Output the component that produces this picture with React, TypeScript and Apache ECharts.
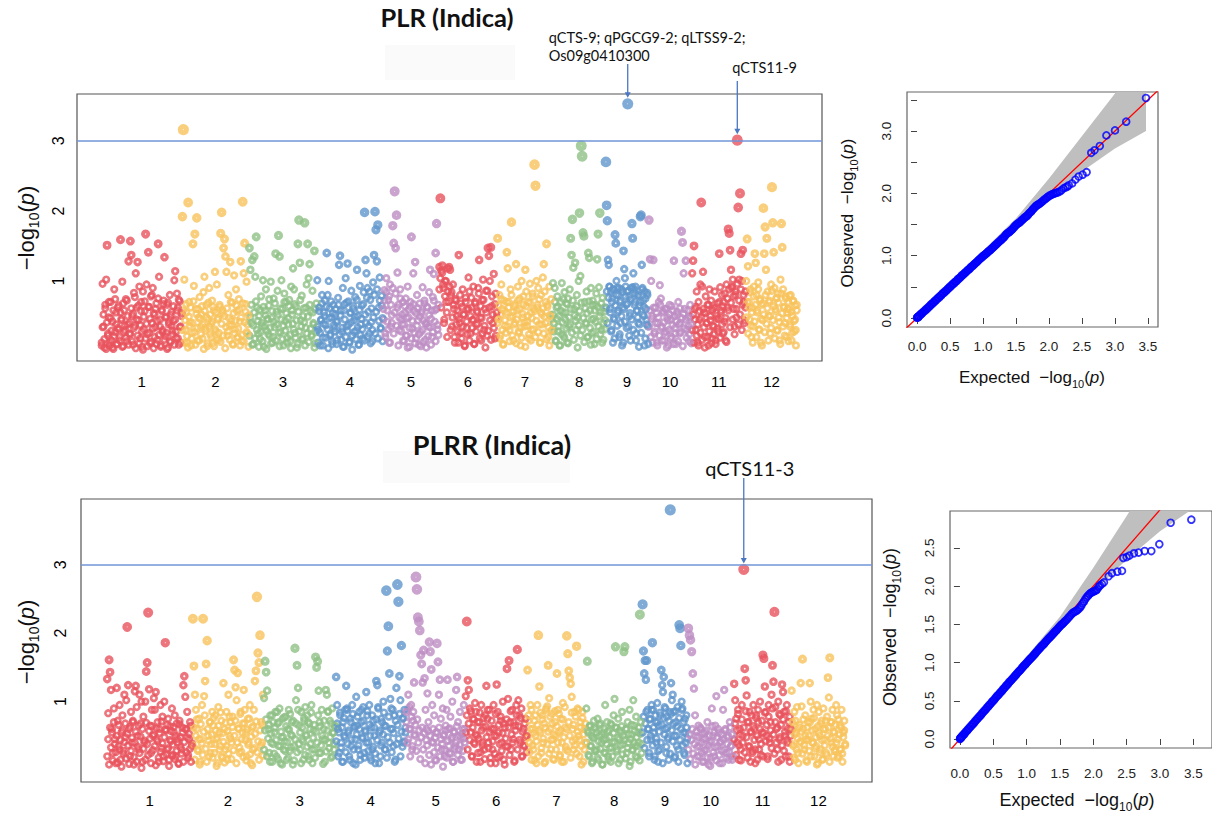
import React, { useEffect, useRef } from "react";
import * as echarts from "echarts";

// ---------- chromosomes ----------
const CHR_LABELS = ["1", "2", "3", "4", "5", "6", "7", "8", "9", "10", "11", "12"];
const CHR_LEN_MB = [43.27, 35.94, 36.41, 35.5, 29.96, 31.25, 29.7, 28.44, 23.01, 23.21, 29.02, 27.53];
const CHR_COLORS = [
  "#e9525d", "#f7c35d", "#8ec186", "#6096cc", "#bd8dc3",
  "#e9525d", "#f7c35d", "#8ec186", "#6096cc", "#bd8dc3",
  "#e9525d", "#f7c35d",
];

// ---------- -log10(p) x 100 per SNP, in genome order, per chromosome ----------
// SNPs carrying the visible signal (peaks and their neighbourhoods)
const PLR_LOGP: number[][] = [
  [12, 96, 35, 5, 61, 102, 151, 22, 48, 8, 70, 15, 42, 3, 88, 27, 55, 10, 33, 65, 20, 159, 46, 99, 7, 58, 30, 74, 14, 38,
    128, 25, 157, 137, 50, 9, 83, 36, 111, 62, 127, 44, 92, 18, 70, 6, 85, 31, 57, 167, 95, 24, 141, 63, 11, 78, 40, 90, 4, 52,
    34, 68, 16, 153, 106, 45, 8, 59, 27, 72, 134, 21, 49, 66, 5, 38, 80, 13, 56, 29, 43, 101, 114, 19, 82, 62, 9, 71, 35, 54],
  [192, 316, 102, 30, 55, 12, 212, 70, 41, 8, 26, 153, 93, 167, 60, 190, 15, 48, 77, 35, 52, 18, 84, 106, 33, 66, 7, 45, 90, 24,
    39, 72, 11, 58, 113, 28, 95, 47, 16, 63, 168, 198, 54, 147, 160, 135, 113, 22, 80, 37, 127, 44, 69, 9, 108, 31, 88, 57, 20, 74,
    42, 128, 14, 213, 111, 154, 67, 99, 25, 51],
  [147, 116, 40, 130, 10, 135, 106, 163, 62, 25, 50, 17, 78, 36, 101, 6, 58, 88, 29, 45, 65, 21, 99, 47, 12, 75, 34, 139, 56, 86,
    165, 135, 27, 101, 60, 8, 82, 43, 70, 19, 38, 73, 14, 92, 52, 118, 88, 26, 64, 5, 153, 187, 126, 44, 79, 18, 61, 183, 33, 95,
    153, 104, 124, 57, 23, 86, 40, 143, 11, 68],
  [101, 30, 62, 8, 45, 80, 19, 55, 72, 37, 140, 80, 100, 61, 24, 48, 10, 66, 33, 52, 42, 15, 76, 123, 136, 58, 28, 90, 6, 67,
    104, 35, 125, 71, 12, 54, 86, 22, 60, 44, 77, 29, 116, 50, 9, 93, 38, 65, 18, 84, 198, 130, 111, 90, 56, 25, 73, 41, 14, 98,
    137, 199, 173, 128, 180, 62, 105, 32, 79, 47],
  [60, 87, 25, 104, 42, 73, 12, 95, 35, 51, 179, 154, 228, 147, 194, 112, 66, 30, 88, 45, 38, 70, 14, 55, 75, 22, 92, 48, 6, 63,
    163, 32, 111, 57, 127, 18, 80, 44, 9, 68, 27, 54, 91, 13, 72, 40, 5, 62, 35, 84, 116, 46, 20, 77, 110, 58, 140, 182, 31, 66],
  [120, 218, 115, 122, 90, 45, 100, 70, 20, 85, 120, 116, 80, 35, 95, 60, 12, 72, 50, 28, 137, 40, 68, 18, 88, 52, 7, 76, 33, 60,
    105, 85, 25, 62, 44, 92, 10, 70, 38, 55, 90, 130, 48, 15, 73, 102, 30, 60, 86, 22, 147, 136, 100, 148, 64, 40, 110, 18, 82, 55],
  [161, 45, 80, 22, 95, 60, 10, 72, 36, 55, 141, 118, 70, 30, 88, 184, 50, 15, 64, 40, 124, 58, 92, 26, 75, 8, 100, 48, 66, 35,
    116, 85, 42, 70, 18, 96, 55, 30, 78, 60, 266, 236, 100, 62, 90, 38, 12, 80, 52, 105, 124, 85, 40, 153, 66, 20, 92, 50, 74, 30],
  [97, 40, 90, 15, 62, 78, 28, 50, 8, 70, 97, 55, 22, 84, 45, 68, 12, 75, 35, 88, 161, 137, 188, 119, 60, 126, 30, 80, 48, 100,
    197, 107, 293, 278, 169, 164, 70, 40, 85, 20, 140, 133, 58, 90, 25, 72, 46, 10, 66, 82, 131, 167, 91, 197, 55, 30, 76, 16, 62, 44],
  [270, 208, 186, 130, 123, 92, 60, 85, 30, 75, 12, 88, 45, 166, 154, 100, 90, 55, 80, 20, 70, 40, 88, 8, 62,
    143, 117, 104, 92, 66, 85, 353, 35, 78, 50, 15, 90, 182, 161, 111, 88, 70, 92, 25, 58, 80, 40, 6, 65,
    192, 194, 123, 90, 72, 50, 85, 18, 60, 38, 80, 10],
  [187, 131, 100, 50, 130, 25, 62, 12, 40, 70, 94, 75, 35, 55, 15, 60, 28, 48, 8, 66, 45, 20, 58, 129, 33, 10, 52, 70, 25, 40,
    171, 155, 111, 60, 129, 30, 48, 14, 66, 38],
  [111, 129, 150, 60, 30, 85, 12, 70, 45, 95, 212, 92, 113, 55, 20, 78, 40, 66, 8, 88, 50, 72, 18, 60, 35, 85, 10, 46, 68, 28,
    139, 91, 58, 80, 25, 70, 42, 15, 95, 62, 174, 168, 144, 116, 90, 102, 60, 35, 80, 48, 301, 205, 102, 225, 139, 100, 144, 70, 40, 85],
  [100, 160, 121, 70, 45, 88, 20, 62, 35, 92, 139, 126, 80, 55, 98, 30, 72, 12, 66, 44, 204, 139, 177, 116, 161, 85, 50, 70, 25, 95,
    234, 183, 141, 90, 60, 75, 30, 82, 48, 15, 102, 182, 148, 88, 62, 40, 78, 20, 55, 70, 60, 35, 80, 15, 50, 72, 28, 45, 8, 66],
];

// remaining SNPs of the dense background band
const PLR_LOGP_BAND: number[][] = [
  [8, 34, 52, 17, 66, 3, 41, 25, 70, 12, 47, 29, 5, 58, 21, 74, 38, 10, 62, 31, 15, 55, 44, 6, 68, 27, 36, 19, 72, 50,
    9, 40, 24, 61, 14, 53, 33, 77, 4, 45, 22, 65, 11, 37, 57, 28, 2, 49, 71, 18, 39, 7, 63, 26, 46, 13, 80, 32, 54, 20,
    60, 10, 43, 75, 23, 35, 6, 57, 30, 67, 16, 48, 26, 3, 69, 41, 14, 52, 36, 24, 64, 9, 45, 28, 58, 18, 73, 34, 12, 50],
  [30, 58, 12, 44, 67, 21, 5, 49, 36, 62, 18, 40, 71, 27, 9, 53, 33, 60, 15, 46, 24, 64, 38, 3, 57, 29, 48, 11, 69, 35,
    52, 20, 42, 63, 7, 31, 55, 17, 45, 26, 66, 13, 39, 58, 22, 50, 4, 34, 61, 28, 47, 16, 70, 37, 10, 54, 25, 43, 65, 19,
    32, 59, 8, 48, 23, 68, 14, 41, 56, 27, 38, 6],
  [22, 48, 66, 9, 37, 55, 18, 71, 30, 43, 6, 59, 27, 40, 14, 63, 35, 51, 3, 46, 24, 74, 33, 11, 57, 20, 42, 68, 15, 38,
    52, 26, 7, 61, 45, 17, 36, 70, 29, 54, 12, 47, 64, 23, 4, 58, 39, 31, 67, 19, 44, 10, 56, 28, 73, 35, 16, 50, 41, 8,
    62, 25, 49, 13, 66, 32, 21, 55, 38, 5, 60, 27],
  [35, 12, 57, 26, 44, 68, 8, 39, 50, 19, 63, 31, 4, 47, 22, 71, 14, 54, 37, 28, 60, 10, 42, 66, 24, 51, 16, 33, 6, 58,
    45, 20, 69, 29, 38, 13, 55, 41, 2, 64, 27, 49, 17, 73, 34, 9, 59, 23, 46, 31, 67, 15, 52, 40, 76, 21, 36, 85, 11, 61,
    30, 48, 80, 25, 56, 88, 18, 43, 72, 33, 65, 14],
  [45, 72, 20, 84, 58, 31, 78, 12, 66, 40, 90, 25, 55, 82, 36, 62, 8, 48, 75, 28, 52, 15, 38, 64, 22, 47, 5, 59, 33, 70,
    18, 43, 67, 26, 11, 54, 36, 61, 24, 49, 7, 57, 30, 44, 68, 16, 39, 63, 21, 51, 34, 9, 58, 27, 72, 42, 14, 60, 37, 23],
  [88, 104, 62, 112, 95, 40, 78, 100, 55, 118, 70, 92, 30, 84, 48, 66, 20, 74, 38, 58, 12, 46, 80, 26, 63, 35, 52, 8, 70, 42,
    24, 60, 15, 50, 76, 33, 45, 10, 68, 28, 57, 39, 82, 18, 64, 47, 25, 73, 36, 5, 55, 86, 29, 62, 44, 16, 78, 52, 33, 67, 22, 48],
  [40, 65, 18, 52, 74, 30, 9, 58, 44, 26, 70, 35, 62, 14, 48, 80, 22, 56, 38, 67, 11, 45, 72, 28, 60, 33, 19, 53, 78, 41,
    6, 64, 36, 50, 24, 69, 15, 47, 82, 31, 57, 20, 43, 66, 27, 74, 12, 55, 38, 61, 25, 49, 70, 17, 63, 34, 8, 52, 29, 45],
  [52, 28, 70, 14, 46, 63, 35, 8, 58, 24, 41, 74, 19, 55, 32, 67, 11, 48, 38, 60, 26, 72, 16, 51, 43, 64, 5, 37, 57, 22,
    69, 30, 47, 13, 61, 39, 54, 20, 71, 33, 9, 45, 66, 27, 58, 42, 17, 63, 35, 50, 24, 68, 12, 40, 56, 31],
  [62, 85, 40, 76, 92, 55, 28, 70, 88, 47, 18, 65, 80, 36, 58, 90, 24, 72, 50, 84, 12, 60, 42, 78, 33, 68, 86, 22, 54, 74,
    45, 91, 30, 66, 82, 15, 57, 48, 79, 38, 70, 26, 88, 52, 63, 8, 75, 44, 83, 35],
  [35, 58, 20, 46, 12, 62, 28, 40, 54, 8, 48, 22, 66, 33, 15, 57, 41, 26, 60, 5, 44, 30, 52, 18, 64, 37, 10, 50, 25, 42,
    56, 14, 38, 61, 27, 47, 7, 53, 32, 45, 19, 58, 36, 24, 49, 11],
  [30, 52, 12, 45, 63, 22, 38, 8, 57, 26, 48, 16, 60, 34, 5, 54, 40, 20, 66, 28, 44, 11, 58, 36, 24, 62, 15, 50, 32, 46,
    70, 19, 55, 38, 64, 27, 82, 47, 13, 75, 58, 88, 34, 69, 92, 45, 78, 24, 85, 60, 96, 38, 72, 52, 88, 30, 66, 80, 44, 62],
  [48, 70, 25, 62, 84, 36, 55, 12, 78, 42, 66, 20, 58, 88, 31, 74, 46, 8, 68, 52, 27, 80, 39, 61, 15, 72, 50, 33, 86, 44,
    64, 18, 57, 76, 29, 69, 41, 10, 82, 54, 35, 63, 22, 75, 47, 60, 14, 79, 38, 56, 26, 71, 43, 65, 30, 58],
];

const PLRR_LOGP: number[][] = [
  [133, 83, 161, 143, 117, 60, 25, 90, 45, 10, 120, 72, 35, 95, 15, 55, 80, 28, 110, 48, 102, 209, 124, 60, 20, 85, 40, 70, 8, 115,
    123, 92, 50, 30, 110, 68, 100, 12, 78, 40, 100, 144, 157, 230, 118, 65, 25, 88, 50, 105, 88, 114, 45, 70, 12, 60, 95, 32, 78, 20,
    100, 186, 58, 30, 75, 15, 64, 42, 90, 22, 55, 80, 20, 68, 40, 10, 72, 48, 30, 62, 124, 137, 107, 60, 85, 22, 45, 70, 12, 35],
  [221, 152, 110, 88, 60, 30, 75, 12, 45, 95, 221, 108, 130, 155, 189, 50, 20, 70, 38, 85, 65, 25, 80, 45, 10, 92, 55, 35, 72, 18,
    127, 60, 30, 85, 15, 110, 50, 70, 40, 78, 161, 146, 121, 102, 142, 60, 25, 85, 45, 68, 117, 88, 55, 20, 75, 40, 95, 10, 62, 30,
    88, 130, 145, 253, 171, 157, 197, 70, 40, 110],
  [105, 159, 143, 116, 60, 25, 80, 40, 12, 70, 55, 85, 20, 68, 35, 90, 10, 48, 75, 30, 42, 78, 15, 60, 88, 28, 52, 70, 8, 35,
    178, 102, 153, 120, 65, 30, 85, 45, 15, 72, 92, 50, 80, 20, 68, 38, 95, 10, 58, 30, 165, 150, 159, 116, 70, 25, 88, 45, 60, 12,
    117, 110, 85, 40, 72, 18, 90, 55, 30, 65],
  [136, 95, 60, 25, 80, 40, 12, 70, 50, 88, 123, 88, 55, 20, 75, 35, 95, 10, 62, 45, 107, 65, 30, 85, 15, 70, 48, 92, 25, 58,
    114, 80, 40, 95, 18, 62, 30, 72, 50, 10, 130, 124, 90, 55, 20, 75, 40, 100, 65, 30, 262, 174, 210, 141, 104, 90, 60, 35, 80, 15,
    120, 271, 246, 137, 102, 182, 75, 40, 88, 55],
  [85, 40, 110, 60, 20, 95, 30, 72, 128, 50, 282, 264, 223, 217, 204, 168, 155, 128, 175, 134, 88, 60,
    112, 70, 187, 173, 147, 95, 40, 80, 15, 55, 185, 158, 110, 132, 75, 30, 90, 50, 20, 65,
    88, 132, 60, 25, 78, 45, 100, 12, 55, 35, 117, 136, 70, 30, 85, 48, 15, 60, 95, 40],
  [108, 217, 131, 117, 90, 55, 20, 75, 40, 98, 85, 50, 25, 70, 12, 95, 40, 62, 30, 80, 123, 75, 40, 88, 18, 60, 30, 95, 50, 10,
    125, 85, 55, 20, 72, 40, 100, 15, 62, 35, 148, 104, 160, 70, 30, 88, 45, 12, 65, 95, 176, 102, 80, 40, 90, 20, 60, 35, 75, 50],
  [146, 80, 40, 95, 15, 60, 30, 72, 50, 10, 95, 197, 122, 55, 25, 80, 40, 68, 12, 88, 93, 153, 105, 60, 30, 82, 45, 15, 70, 50,
    141, 88, 55, 20, 75, 40, 98, 12, 62, 30, 196, 170, 145, 135, 126, 107, 60, 30, 85, 45, 181, 90, 50, 20, 70, 35, 85, 12, 60, 40],
  [90, 159, 55, 20, 65, 35, 10, 48, 72, 28, 60, 30, 75, 15, 50, 68, 40, 8, 55, 25, 95, 45, 70, 20, 58, 32, 12, 66, 40, 80,
    104, 180, 62, 30, 75, 45, 15, 55, 85, 38, 173, 180, 60, 25, 70, 40, 88, 12, 52, 30, 102, 65, 35, 78, 18, 55, 40, 227, 70, 25],
  [242, 174, 141, 160, 132, 160, 88, 60, 25, 75, 45, 95, 186, 88, 55, 20, 70, 40, 98, 12, 65, 30, 80,
    146, 124, 114, 136, 92, 60, 25, 78, 45, 15, 85, 380, 127, 102, 110, 85, 50, 20, 70, 35, 92, 12,
    212, 207, 182, 100, 90, 55, 25, 75, 40, 62, 10],
  [207, 197, 190, 173, 141, 119, 80, 50, 20, 65, 35, 60, 25, 45, 12, 55, 30, 70, 8, 40, 18,
    90, 50, 20, 65, 108, 35, 55, 10, 42, 28, 88, 117, 60, 25, 48, 15, 70, 35, 52, 20],
  [126, 102, 75, 40, 88, 15, 60, 30, 95, 50, 293, 148, 131, 109, 70, 35, 85, 12, 55, 25, 95, 60, 30, 80, 15, 70, 45, 100, 22, 55,
    168, 163, 122, 85, 50, 20, 95, 40, 70, 110, 153, 129, 231, 92, 60, 30, 100, 45, 80, 15, 125, 114, 85, 50, 20, 95, 40, 70, 12, 60],
  [116, 70, 35, 85, 15, 55, 92, 25, 62, 40, 127, 93, 162, 60, 30, 80, 45, 12, 70, 50, 127, 100, 75, 40, 88, 20, 60, 35, 95, 10,
    85, 50, 30, 72, 15, 90, 45, 60, 25, 78, 135, 106, 164, 70, 40, 88, 20, 55, 30, 95, 80, 45, 20, 65, 30, 88, 12, 55, 72, 38],
];

const PLRR_LOGP_BAND: number[][] = [
  [20, 45, 8, 62, 33, 55, 14, 70, 38, 26, 50, 11, 66, 30, 44, 5, 58, 24, 41, 68, 17, 53, 36, 9, 63, 28, 47, 72, 19, 40,
    56, 12, 34, 65, 25, 49, 3, 60, 31, 43, 15, 69, 38, 22, 57, 46, 10, 64, 29, 52, 35, 7, 61, 42, 18, 54, 27, 71, 39, 13,
    48, 59, 23, 66, 32, 6, 44, 57, 21, 37, 63, 16, 50, 28, 45, 9, 67, 34, 24, 55, 12, 41, 60, 26, 48, 18, 53, 31, 65, 39],
  [36, 62, 15, 50, 74, 28, 45, 8, 67, 39, 22, 56, 80, 31, 12, 60, 43, 70, 25, 52, 18, 76, 38, 58, 6, 47, 65, 30, 84, 20,
    54, 41, 11, 69, 35, 57, 24, 78, 46, 16, 63, 29, 50, 72, 10, 40, 61, 33, 82, 27, 55, 19, 68, 44, 14, 59, 37, 75, 23, 49,
    7, 64, 32, 53, 71, 26, 42, 15, 58, 36, 66, 21],
  [30, 58, 74, 20, 46, 66, 12, 53, 80, 38, 24, 62, 44, 85, 16, 70, 35, 56, 8, 48, 77, 28, 64, 41, 18, 59, 82, 33, 50, 72,
    14, 45, 68, 26, 88, 38, 55, 10, 62, 42, 76, 22, 52, 34, 70, 15, 60, 84, 30, 47, 66, 18, 56, 40, 80, 25, 64, 36, 50, 9,
    72, 44, 27, 58, 86, 32, 48, 68, 20, 54, 38, 63],
  [42, 68, 20, 55, 84, 33, 62, 12, 76, 48, 26, 90, 38, 58, 15, 70, 45, 82, 30, 64, 8, 52, 78, 36, 60, 22, 88, 46, 72, 18,
    56, 40, 86, 28, 66, 50, 14, 80, 34, 62, 24, 74, 44, 92, 10, 58, 36, 70, 52, 84, 30, 64, 18, 48, 78, 40, 60, 26, 88, 54,
    12, 72, 38, 66, 46, 82, 20, 56, 34, 76, 42, 62],
  [70, 88, 45, 92, 60, 78, 35, 85, 52, 66, 28, 74, 40, 58, 16, 48, 62, 30, 54, 10, 44, 36, 57, 22, 50, 8, 41, 60, 26, 47,
    14, 55, 33, 62, 20, 45, 38, 5, 52, 29, 58, 18, 43, 35, 61, 24, 48, 12, 56, 31, 40, 64, 22, 50, 37, 15, 53, 28, 46, 60],
  [55, 80, 30, 68, 44, 86, 20, 62, 74, 38, 52, 12, 70, 46, 84, 26, 58, 36, 76, 16, 64, 48, 88, 32, 56, 10, 72, 42, 60, 24,
    82, 50, 18, 66, 38, 78, 28, 54, 68, 8, 46, 74, 34, 62, 22, 86, 52, 40, 70, 14, 58, 80, 30, 64, 44, 76, 20, 56, 36, 68, 48, 26],
  [48, 72, 26, 60, 88, 36, 54, 14, 80, 42, 66, 20, 58, 84, 32, 74, 46, 10, 62, 90, 38, 56, 24, 78, 44, 68, 16, 52, 86, 30,
    64, 40, 82, 22, 58, 12, 74, 48, 92, 34, 60, 28, 70, 50, 18, 84, 42, 66, 36, 78, 24, 56, 88, 44, 62, 8, 76, 52, 30, 68],
  [40, 58, 22, 64, 35, 50, 12, 46, 62, 28, 55, 18, 42, 66, 31, 52, 8, 44, 60, 25, 38, 56, 15, 48, 68, 33, 20, 54, 41, 62,
    27, 47, 10, 58, 36, 64, 23, 50, 44, 17, 60, 32, 52, 6, 45, 66, 29, 40, 57, 20, 48, 35, 62, 14, 53, 38],
  [55, 78, 32, 68, 85, 44, 60, 20, 74, 50, 88, 36, 62, 15, 80, 46, 70, 28, 56, 84, 40, 66, 10, 76, 52, 90, 34, 62, 48, 72,
    24, 82, 58, 42, 68, 18, 86, 50, 64, 30, 76, 44, 60, 88, 36, 70, 22, 54, 80, 46],
  [30, 52, 16, 44, 60, 24, 38, 8, 56, 34, 48, 20, 62, 40, 12, 54, 28, 46, 58, 18, 36, 50, 6, 42, 64, 26, 55, 33, 14, 48,
    60, 22, 40, 52, 10, 45, 30, 58, 18, 38, 50, 26, 62, 35, 15, 44],
  [45, 68, 22, 58, 82, 36, 52, 14, 74, 40, 62, 26, 86, 48, 18, 70, 34, 56, 80, 28, 64, 44, 10, 76, 50, 88, 30, 60, 38, 72,
    20, 54, 84, 42, 66, 16, 78, 46, 58, 32, 90, 52, 24, 70, 40, 62, 12, 82, 48, 66, 36, 74, 28, 56, 86, 44, 60, 20, 78, 50],
  [38, 60, 18, 52, 72, 30, 46, 10, 66, 42, 56, 24, 74, 36, 50, 14, 62, 44, 28, 70, 20, 58, 40, 76, 32, 48, 8, 64, 54, 26,
    68, 44, 16, 60, 36, 72, 22, 50, 62, 12, 46, 70, 34, 56, 28, 66, 40, 18, 74, 52, 30, 62, 24, 48, 58, 36],
];

const SIGNIFICANCE = 3;
const MH_Y_TICKS = [1, 2, 3];

// ---------- QQ plots: [expected, observed] -log10(p) ----------
const QQ_PLR: [number, number][] = [
  [0.0, 0.005], [0.005, 0.01], [0.01, 0.015], [0.015, 0.01], [0.02, 0.025], [0.03, 0.03], [0.04, 0.045], [0.05, 0.05],
  [0.06, 0.065], [0.07, 0.07], [0.08, 0.085], [0.095, 0.095], [0.11, 0.115], [0.125, 0.12], [0.14, 0.145], [0.155, 0.15],
  [0.17, 0.175], [0.185, 0.18], [0.2, 0.2], [0.215, 0.22], [0.23, 0.225], [0.245, 0.25], [0.26, 0.255], [0.275, 0.28],
  [0.29, 0.285], [0.305, 0.305], [0.32, 0.325], [0.335, 0.33], [0.35, 0.355], [0.365, 0.36], [0.38, 0.38], [0.395, 0.4],
  [0.41, 0.405], [0.425, 0.43], [0.44, 0.435], [0.455, 0.455], [0.47, 0.475], [0.485, 0.48], [0.5, 0.505], [0.515, 0.51],
  [0.53, 0.53], [0.545, 0.55], [0.56, 0.555], [0.575, 0.58], [0.59, 0.585], [0.605, 0.6], [0.62, 0.625], [0.635, 0.63],
  [0.65, 0.65], [0.665, 0.66], [0.68, 0.685], [0.695, 0.69], [0.71, 0.705], [0.725, 0.725], [0.74, 0.735], [0.755, 0.75],
  [0.77, 0.77], [0.785, 0.78], [0.8, 0.795], [0.815, 0.815], [0.83, 0.825], [0.845, 0.84], [0.86, 0.855], [0.875, 0.87],
  [0.89, 0.885], [0.905, 0.9], [0.92, 0.91], [0.935, 0.93], [0.95, 0.945], [0.965, 0.96], [0.98, 0.97], [0.995, 0.99],
  [1.01, 1.0], [1.025, 1.015], [1.04, 1.025], [1.055, 1.04], [1.07, 1.055], [1.085, 1.07], [1.1, 1.08], [1.115, 1.095],
  [1.13, 1.11], [1.145, 1.125], [1.16, 1.14], [1.175, 1.155], [1.19, 1.17], [1.205, 1.185], [1.22, 1.2], [1.235, 1.215],
  [1.25, 1.23], [1.265, 1.245], [1.28, 1.26], [1.295, 1.275], [1.31, 1.29], [1.325, 1.305], [1.34, 1.33], [1.355, 1.345],
  [1.37, 1.36], [1.385, 1.37], [1.4, 1.38], [1.415, 1.395], [1.43, 1.41], [1.445, 1.425], [1.46, 1.44], [1.475, 1.465],
  [1.49, 1.48], [1.505, 1.495], [1.52, 1.51], [1.535, 1.52], [1.55, 1.53], [1.565, 1.545], [1.58, 1.56], [1.595, 1.575],
  [1.61, 1.59], [1.625, 1.605], [1.64, 1.62], [1.655, 1.63], [1.67, 1.64], [1.685, 1.66], [1.7, 1.68], [1.715, 1.695],
  [1.73, 1.71], [1.745, 1.73], [1.76, 1.75], [1.775, 1.765], [1.79, 1.78], [1.805, 1.8], [1.82, 1.81], [1.835, 1.82],
  [1.85, 1.83], [1.87, 1.845], [1.89, 1.86], [1.91, 1.88], [1.93, 1.9], [1.95, 1.915], [1.97, 1.935], [1.99, 1.95],
  [2.01, 1.965], [2.03, 1.975], [2.05, 1.985], [2.07, 1.995], [2.09, 2.0], [2.11, 2.01], [2.13, 2.015], [2.16, 2.03],
  [2.19, 2.05], [2.22, 2.08], [2.25, 2.095], [2.28, 2.11], [2.3, 2.13], [2.35, 2.16], [2.4, 2.22], [2.45, 2.27],
  [2.51, 2.3], [2.57, 2.34], [2.64, 2.65], [2.69, 2.69], [2.77, 2.76], [2.87, 2.93], [3.0, 3.01], [3.17, 3.15], [3.47, 3.53],
];

const QQ_PLRR: [number, number][] = [
  [0.0, 0.0], [0.005, 0.01], [0.01, 0.01], [0.015, 0.02], [0.02, 0.02], [0.03, 0.035], [0.04, 0.04], [0.05, 0.055],
  [0.06, 0.06], [0.07, 0.075], [0.08, 0.08], [0.095, 0.1], [0.11, 0.11], [0.125, 0.13], [0.14, 0.14], [0.155, 0.16],
  [0.17, 0.17], [0.185, 0.19], [0.2, 0.2], [0.215, 0.215], [0.23, 0.235], [0.245, 0.245], [0.26, 0.265], [0.275, 0.275],
  [0.29, 0.295], [0.305, 0.305], [0.32, 0.32], [0.335, 0.34], [0.35, 0.35], [0.365, 0.37], [0.38, 0.38], [0.395, 0.395],
  [0.41, 0.415], [0.425, 0.425], [0.44, 0.445], [0.455, 0.455], [0.47, 0.47], [0.485, 0.49], [0.5, 0.5], [0.515, 0.515],
  [0.53, 0.535], [0.545, 0.545], [0.56, 0.565], [0.575, 0.575], [0.59, 0.59], [0.605, 0.61], [0.62, 0.62], [0.635, 0.635],
  [0.65, 0.655], [0.665, 0.665], [0.68, 0.68], [0.695, 0.7], [0.71, 0.71], [0.725, 0.725], [0.74, 0.745], [0.755, 0.755],
  [0.77, 0.77], [0.785, 0.785], [0.8, 0.8], [0.815, 0.815], [0.83, 0.83], [0.845, 0.845], [0.86, 0.86], [0.875, 0.875],
  [0.89, 0.89], [0.905, 0.9], [0.92, 0.915], [0.935, 0.935], [0.95, 0.95], [0.965, 0.965], [0.98, 0.975], [0.995, 0.99],
  [1.01, 1.005], [1.025, 1.02], [1.04, 1.035], [1.055, 1.05], [1.07, 1.06], [1.085, 1.075], [1.1, 1.09], [1.115, 1.105],
  [1.13, 1.12], [1.145, 1.135], [1.16, 1.15], [1.175, 1.165], [1.19, 1.18], [1.205, 1.195], [1.22, 1.21], [1.235, 1.225],
  [1.25, 1.235], [1.265, 1.25], [1.28, 1.265], [1.295, 1.28], [1.31, 1.295], [1.325, 1.31], [1.34, 1.325], [1.355, 1.335],
  [1.37, 1.35], [1.385, 1.365], [1.4, 1.38], [1.415, 1.395], [1.43, 1.41], [1.445, 1.42], [1.46, 1.435], [1.475, 1.45],
  [1.49, 1.465], [1.505, 1.48], [1.52, 1.495], [1.535, 1.505], [1.55, 1.515], [1.565, 1.53], [1.58, 1.545], [1.6, 1.56],
  [1.62, 1.58], [1.64, 1.6], [1.66, 1.62], [1.68, 1.64], [1.7, 1.655], [1.72, 1.665], [1.74, 1.675], [1.76, 1.685],
  [1.78, 1.7], [1.8, 1.72], [1.82, 1.745], [1.84, 1.775], [1.86, 1.8], [1.88, 1.83], [1.9, 1.855], [1.92, 1.875],
  [1.94, 1.895], [1.96, 1.91], [1.98, 1.92], [2.0, 1.93], [2.02, 1.935], [2.04, 1.945], [2.06, 1.96], [2.08, 1.99],
  [2.1, 2.01], [2.13, 2.03], [2.16, 2.05], [2.23, 2.13], [2.28, 2.17], [2.36, 2.19], [2.43, 2.2], [2.45, 2.37],
  [2.5, 2.38], [2.54, 2.4], [2.61, 2.43], [2.68, 2.44], [2.77, 2.46], [2.87, 2.46], [2.99, 2.55], [3.16, 2.83], [3.47, 2.87],
];

// 95% band around the expected line
const QQ_BAND_X = [0, 0.5, 1.0, 1.5, 2.0, 2.5, 3.0, 3.47];
const QQ_BAND_LO = [0, 0.48, 0.96, 1.45, 1.92, 2.35, 2.72, 3.0];
const QQ_BAND_HI = [0, 0.53, 1.08, 1.6, 2.24, 2.92, 3.6, 4.3];
const QQ_DIAGONAL: [number, number][] = [[-1, -1], [5, 5]];

const QQ_X_TICKS = [0, 0.5, 1, 1.5, 2, 2.5, 3, 3.5];
const QQ1_Y_TICKS = [0, 0.5, 1, 1.5, 2, 2.5, 3, 3.5];
const QQ1_Y_LABELS = [0, 1, 2, 3];
const QQ2_Y_TICKS = [0, 0.5, 1, 1.5, 2, 2.5];

// ---------- styling ----------
const R_FONT = "'Liberation Sans', Arial, Helvetica, sans-serif";
const NOTE_FONT = "Lato, 'Noto Sans', sans-serif";
const ARROW_COLOR = "#4a76c2";
const FRAME_COLOR = "#555";

const chrStarts: number[] = [];
CHR_LEN_MB.forEach((len, i) => chrStarts.push(i === 0 ? 0 : chrStarts[i - 1] + CHR_LEN_MB[i - 1]));
const chrCenters = chrStarts.map((s, i) => s + CHR_LEN_MB[i] / 2);
const GENOME_LEN = chrStarts[11] + CHR_LEN_MB[11];
const X_MIN = -13;
const X_MAX = GENOME_LEN + 13.3;

function chrLabelAt(v: number) {
  let best = 0;
  chrCenters.forEach((c, i) => {
    if (Math.abs(c - v) < Math.abs(chrCenters[best] - v)) best = i;
  });
  return CHR_LABELS[best];
}

function snpPosition(chr: number, i: number, n: number) {
  return chrStarts[chr] + ((i + 0.5) / n) * CHR_LEN_MB[chr];
}

// open circles that grow and close up as the signal gets stronger
function ringStyle(v: number) {
  const outer = v < 1 ? 8.2 : 8.2 + Math.min((v - 1) * 1.5, 3.0);
  const hole = v < 1 ? 2.9 : Math.max(0.9, 2.9 - (v - 1) * 2.2);
  const bw = (outer - hole) / 2;
  return { size: outer - bw, bw };
}

function ringItems(logp: number[][], keep: (v: number) => boolean) {
  const out: any[] = [];
  logp.forEach((vals, c) =>
    vals.forEach((v100, i) => {
      const v = v100 / 100;
      if (!keep(v)) return;
      const st = ringStyle(v);
      out.push({
        value: [snpPosition(c, i, vals.length), v],
        symbolSize: st.size,
        itemStyle: { color: "rgba(0,0,0,0)", borderColor: CHR_COLORS[c], borderWidth: st.bw },
      });
    })
  );
  return out;
}

function manhattanSeries(band: number[][], logp: number[][], axis: number) {
  const base = { type: "scatter", xAxisIndex: axis, yAxisIndex: axis, silent: true, symbol: "circle" };
  return [
    { ...base, data: ringItems(band, () => true) },
    {
      ...base,
      data: ringItems(logp, (v) => v < 1.4),
      markLine: {
        silent: true, symbol: ["none", "none"], label: { show: false },
        lineStyle: { color: "#7095d8", width: 1.5, type: "solid" },
        data: [{ yAxis: SIGNIFICANCE }],
      },
    },
    { ...base, data: ringItems(logp, (v) => v >= 1.4) },
  ];
}

function qqSeries(points: [number, number][], axis: number) {
  return [
    {
      type: "custom", xAxisIndex: axis, yAxisIndex: axis, silent: true, clip: true, z: 1, data: [[0, 0]],
      renderItem: (_p: any, api: any) => {
        const pts: number[][] = [];
        QQ_BAND_X.forEach((x, i) => pts.push(api.coord([x, QQ_BAND_HI[i]])));
        for (let i = QQ_BAND_X.length - 1; i >= 0; i--) pts.push(api.coord([QQ_BAND_X[i], QQ_BAND_LO[i]]));
        return { type: "polygon", shape: { points: pts }, style: { fill: "#bfbfbf" } };
      },
    },
    {
      type: "line", xAxisIndex: axis, yAxisIndex: axis, silent: true, clip: true, showSymbol: false, z: 2,
      data: QQ_DIAGONAL, lineStyle: { color: "#ff0000", width: 1.3 },
    },
    {
      type: "scatter", xAxisIndex: axis, yAxisIndex: axis, silent: true, symbol: "circle", symbolSize: 6.8, z: 3,
      data: points, itemStyle: { color: "rgba(0,0,0,0)", borderColor: "#0000ff", borderWidth: 1.8 },
    },
  ];
}

function manhattanX(gridIndex: number, margin: number) {
  return {
    type: "value", gridIndex, min: X_MIN, max: X_MAX,
    axisLine: { show: false }, axisTick: { show: false }, splitLine: { show: false },
    axisLabel: { customValues: chrCenters, formatter: chrLabelAt, fontSize: 15, color: "#000", fontFamily: R_FONT, margin },
  };
}

function manhattanY(gridIndex: number, min: number, max: number, margin: number) {
  return {
    type: "value", gridIndex, min, max,
    axisLine: { show: false }, axisTick: { show: false }, splitLine: { show: false },
    axisLabel: { customValues: MH_Y_TICKS, rotate: 90, fontSize: 16, color: "#000", fontFamily: R_FONT, margin },
  };
}

function qqAxis(gridIndex: number, min: number, max: number, ticks: number[], labels: number[], margin: number, rotate: number) {
  return {
    type: "value", gridIndex, min, max,
    axisLine: { show: false }, splitLine: { show: false },
    axisTick: { show: true, customValues: ticks, length: 6, lineStyle: { color: "#444", width: 1 } },
    axisLabel: {
      customValues: labels, rotate, margin, fontSize: 13.5, color: "#222", fontFamily: R_FONT,
      formatter: (v: number) => v.toFixed(1),
    },
  };
}

const gridStyle = { show: true, borderColor: FRAME_COLOR, borderWidth: 1.2, backgroundColor: "transparent" };

function buildOption() {
  return {
    animation: false,
    backgroundColor: "#ffffff",
    grid: [
      { left: 77, top: 94, width: 745, height: 267, ...gridStyle },
      { left: 81, top: 499, width: 791, height: 283, ...gridStyle },
      { left: 907, top: 92, width: 251, height: 235, ...gridStyle, borderColor: "#666" },
      { left: 950, top: 511, width: 264, height: 237, ...gridStyle, borderColor: "#666" },
    ],
    xAxis: [
      manhattanX(0, 13),
      manhattanX(1, 11),
      qqAxis(2, -0.152, 3.652, QQ_X_TICKS, QQ_X_TICKS, 12, 0),
      qqAxis(3, -0.149, 3.78, QQ_X_TICKS, QQ_X_TICKS, 18, 0),
    ],
    yAxis: [
      manhattanY(0, -0.143, 3.67, 11),
      manhattanY(1, -0.175, 3.96, 13),
      qqAxis(2, -0.144, 3.626, QQ1_Y_TICKS, QQ1_Y_LABELS, 14, 90),
      qqAxis(3, -0.118, 2.984, QQ2_Y_TICKS, QQ2_Y_TICKS, 14, 90),
    ],
    series: [
      ...manhattanSeries(PLR_LOGP_BAND, PLR_LOGP, 0),
      ...manhattanSeries(PLRR_LOGP_BAND, PLRR_LOGP, 1),
      ...qqSeries(QQ_PLR, 2),
      ...qqSeries(QQ_PLRR, 3),
    ],
  };
}

// "−log10(p)" with a subscript and italic p
function logLabel(prefix: string, size: number) {
  const sub = Math.round(size * 0.64);
  return {
    text: `${prefix ? `{t|${prefix}}` : ""}{t|−log}{s|10}{t|(}{i|p}{t|)}`,
    rich: {
      t: { fontSize: size, fontFamily: R_FONT, fill: "#111", lineHeight: size + 8, verticalAlign: "middle" },
      i: { fontSize: size, fontFamily: R_FONT, fontStyle: "italic", fill: "#111", lineHeight: size + 8, verticalAlign: "middle" },
      s: { fontSize: sub, fontFamily: R_FONT, fill: "#111", verticalAlign: "bottom" },
    },
  };
}

function rotatedTitle(x: number, y: number, prefix: string, size: number) {
  return {
    type: "text", x, y, rotation: Math.PI / 2, z: 50, silent: true,
    style: { ...logLabel(prefix, size), align: "center", verticalAlign: "middle", textAlign: "center", textVerticalAlign: "middle" },
  };
}

function flatTitle(x: number, y: number, prefix: string, size: number) {
  return {
    type: "text", x, y, z: 50, silent: true,
    style: { ...logLabel(prefix, size), align: "center", verticalAlign: "middle", textAlign: "center", textVerticalAlign: "middle" },
  };
}

function text(x: number, y: number, s: string, font: string, align = "left") {
  return {
    type: "text", x, y, z: 60, silent: true,
    style: { text: s, font, fill: "#111", align, verticalAlign: "middle", textAlign: align, textVerticalAlign: "middle" },
  };
}

function arrow(x: number, yFrom: number, yTo: number) {
  return [
    { type: "line", z: 60, silent: true, shape: { x1: x, y1: yFrom, x2: x, y2: yTo - 4 }, style: { stroke: ARROW_COLOR, lineWidth: 1.3 } },
    { type: "polygon", z: 60, silent: true, shape: { points: [[x - 3, yTo - 5.5], [x + 3, yTo - 5.5], [x, yTo]] }, style: { fill: ARROW_COLOR } },
  ];
}

function locate(chart: any, logp: number[][], chr: number, v100: number, grid: number) {
  const vals = logp[chr];
  const i = vals.indexOf(v100);
  return chart.convertToPixel({ gridIndex: grid }, [snpPosition(chr, i, vals.length), v100 / 100]) as number[];
}

function buildGraphics(chart: any) {
  const g: any[] = [];
  // panel titles
  g.push({ type: "rect", z: 1, silent: true, shape: { x: 385, y: 45, width: 130, height: 35 }, style: { fill: "#fafafa" } });
  g.push({ type: "rect", z: 1, silent: true, shape: { x: 383, y: 451, width: 187, height: 32 }, style: { fill: "#fafafa" } });
  g.push(text(447, 17, "PLR (Indica)", `bold 25.5px ${NOTE_FONT}`, "center"));
  g.push(text(492, 444, "PLRR (Indica)", `bold 27px ${NOTE_FONT}`, "center"));

  // axis titles
  g.push(rotatedTitle(26, 228, "", 22));
  g.push(rotatedTitle(26, 642, "", 22));
  g.push(flatTitle(1032, 377, "Expected  ", 17));
  g.push(rotatedTitle(847, 213, "Observed  ", 17));
  g.push(flatTitle(1077, 800, "Expected  ", 18));
  g.push(rotatedTitle(890, 627, "Observed  ", 18));

  // labelled loci
  const a = locate(chart, PLR_LOGP, 8, 353, 0);
  g.push(text(a[0] - 79, 37, "qCTS-9; qPGCG9-2; qLTSS9-2;", `14.5px ${NOTE_FONT}`));
  g.push(text(a[0] - 79, 55, "Os09g0410300", `14.5px ${NOTE_FONT}`));
  g.push(...arrow(a[0], 64, a[1] - 6));

  const b = locate(chart, PLR_LOGP, 10, 301, 0);
  g.push(text(b[0] - 5, 67, "qCTS11-9", `14.5px ${NOTE_FONT}`));
  g.push(...arrow(b[0], 81, b[1] - 6));

  const c = locate(chart, PLRR_LOGP, 10, 293, 1);
  g.push(text(c[0] + 6, 468, "qCTS11-3", `20px ${NOTE_FONT}`, "center"));
  g.push(...arrow(c[0], 478, c[1] - 6));
  return g;
}

export default function App() {
  const ref = useRef<HTMLDivElement>(null);
  useEffect(() => {
    if (!ref.current) return;
    const chart = echarts.init(ref.current, undefined, { renderer: "svg" });
    chart.setOption(buildOption() as any);
    chart.setOption({ graphic: buildGraphics(chart) } as any);
    return () => chart.dispose();
  }, []);
  return (
    <div
      ref={ref}
      style={{ position: "absolute", left: 0, top: 0, width: 1212, height: 817, background: "#fff" }}
    />
  );
}
